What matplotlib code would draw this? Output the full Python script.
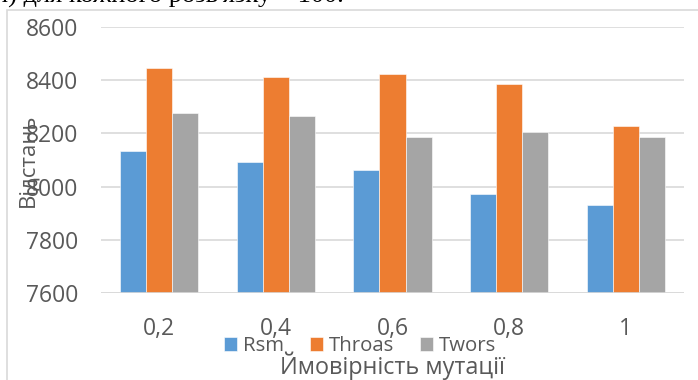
import numpy as np
import matplotlib
matplotlib.use("Agg")
import matplotlib.pyplot as plt
from matplotlib.patches import Rectangle

# --- data ---
categories = ["0,2", "0,4", "0,6", "0,8", "1"]
rsm = [8135, 8094, 8062, 7973, 7932]
throas = [8446, 8412, 8424, 8387, 8226]
twors = [8276, 8264, 8187, 8204, 8185]
series_names = ["Rsm", "Throas", "Twors"]
yticks = [7600, 7800, 8000, 8200, 8400, 8600]

colors = ["#5b9bd5", "#ed7d31", "#a5a5a5"]
text_color = "#595959"
grid_color = "#d9d9d9"

plt.rcParams["font.family"] = ["Open Sans", "DejaVu Sans"]

W, H = 698, 380
fig = plt.figure(figsize=(W / 100, H / 100), dpi=100)

# caption line of the document, cut off at the top
fig.text(-0.008, (H - 3) / H, "и) для кожного розв'язку – 100.",
         family=["Liberation Serif", "DejaVu Serif"], fontsize=19,
         color="black", va="baseline", ha="left")

# chart area frame
fig.patches.append(Rectangle((7 / W, -0.1), 1.0, (H - 10) / H + 0.1,
                             transform=fig.transFigure, fill=False,
                             edgecolor=grid_color, linewidth=1.2))

left, right, top, bottom = 101, 684, 27, 293
ax = fig.add_axes([left / W, (H - bottom) / H, (right - left) / W, (bottom - top) / H])

x = np.arange(len(categories))
bw = 0.223
for i, (vals, name) in enumerate(zip([rsm, throas, twors], series_names)):
    ax.bar(x + (i - 1) * bw, np.array(vals) - 7600, bw, bottom=7600,
           color=colors[i], label=name, zorder=3, edgecolor="white", linewidth=0.4)

ax.set_xlim(-0.5, len(categories) - 0.5)
ax.set_ylim(7600, 8600)
ax.set_yticks(yticks)
ax.set_yticklabels([str(t) for t in yticks])
ax.set_xticks(x)
ax.set_xticklabels(categories)
ax.yaxis.grid(True, color=grid_color, linewidth=1.2, zorder=0)
for s in ax.spines.values():
    s.set_visible(False)
ax.axhline(7600, color=grid_color, linewidth=1.2, zorder=4)
ax.tick_params(axis="both", length=0, colors=text_color)
ax.tick_params(axis="y", labelsize=16.5, pad=16.5)
ax.tick_params(axis="x", labelsize=16.5, pad=17)

fig.text(28 / W, (H - 160) / H, "Відстань", rotation=90, fontsize=16,
         color=text_color, ha="center", va="center")
fig.text(393 / W, (H - 366) / H, "Ймовірність мутації", fontsize=16.8,
         color=text_color, ha="center", va="center")

fig.legend(loc="center", bbox_to_anchor=(360 / W, (H - 346) / H), ncol=3,
           frameon=False, fontsize=14.7, labelcolor=text_color,
           handlelength=0.65, handleheight=0.65, handletextpad=0.25,
           columnspacing=1.3, borderpad=0)

fig.savefig("out.png", dpi=100)
